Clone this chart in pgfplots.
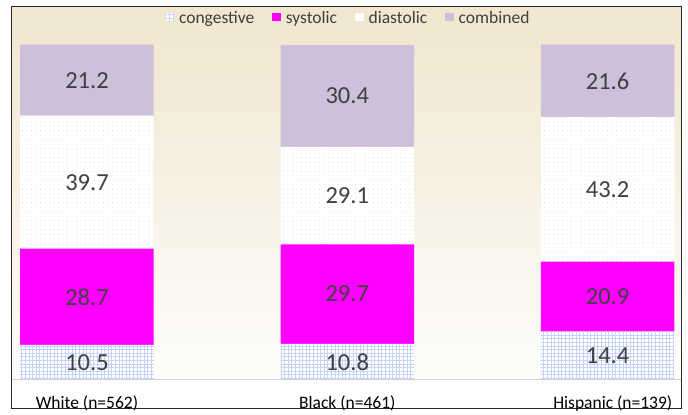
\documentclass[border=0pt]{standalone}
\usepackage{pgfplots}
\pgfplotsset{compat=1.18}
\usepackage{pgfplotstable}
\usepackage{fontspec}
\setmainfont{Carlito}
\usetikzlibrary{patterns.meta,calc}

\definecolor{txt}{RGB}{64,64,64}
\definecolor{sysc}{RGB}{255,0,255}
\definecolor{combc}{RGB}{204,192,218}
\definecolor{gridc}{RGB}{196,210,248}
\definecolor{dotc}{RGB}{205,205,190}
\definecolor{beige}{RGB}{241,230,206}

% share of heart failure type (%) by group
\pgfplotstableread{
x cong sys dia comb
0 10.5 28.7 39.7 21.2
1 10.8 29.7 29.1 30.4
2 14.4 20.9 43.2 21.6
}\hfdata

\pgfplotsset{
  frame/.style={
    scale only axis,
    width=669pt, height=402pt,
    xmin=-0.288, xmax=2.282,
    ymin=-8.66, ymax=111.34,
    xtick=\empty, ytick=\empty,
    clip=false,
  },
  seglabel/.style={
    only marks, mark=none,
    nodes near coords={\pgfmathprintnumber[fixed,fixed zerofill,precision=1]{\pgfplotspointmeta}},
    point meta=explicit,
    every node near coord/.append style={font=\fontsize{24.5}{27}\selectfont,
      text=txt, anchor=center},
  },
}

\begin{document}
\begin{tikzpicture}
\begin{axis}[
  frame,
  ybar stacked,
  bar width=0.513,
  axis line style={black!85, line width=1pt},
  axis background/.style={shade, top color=beige, bottom color=white},
  legend columns=4,
  legend style={draw=none, fill=none, font=\fontsize{17.5}{19}\selectfont,
    text=txt, at={(rel axis cs:0.503,0.973)}, anchor=center,
    /tikz/every odd column/.append style={column sep=3pt},
    /tikz/every even column/.append style={column sep=16pt}},
  legend image code/.code={\draw[#1, draw=none] (0pt,-3.5pt) rectangle (8.5pt,5pt);},
]
  % baseline
  \draw[black!18, line width=1pt] (axis cs:-0.288,0) -- (axis cs:2.282,0);

  \addplot[fill=white, draw=none,
    postaction={pattern={Hatch[angle=0,distance=3.6pt,line width=0.6pt]}, pattern color=gridc}]
    table[x=x, y=cong] {\hfdata};
  \addlegendentry{congestive}
  \addplot[fill=sysc, draw=none] table[x=x, y=sys] {\hfdata};
  \addlegendentry{systolic}
  \addplot[fill=white, draw=none,
    postaction={pattern={Dots[distance=4.5pt,radius=0.45pt]}, pattern color=dotc}]
    table[x=x, y=dia] {\hfdata};
  \addlegendentry{diastolic}
  \addplot[fill=combc, draw=none] table[x=x, y=comb] {\hfdata};
  \addlegendentry{combined}

  % group names
  \node[font=\fontsize{17.5}{19}\selectfont, text=black] at (axis cs:0,-6.9) {White (n=562)};
  \node[font=\fontsize{17.5}{19}\selectfont, text=black] at (axis cs:1,-6.9) {Black (n=461)};
  \node[font=\fontsize{17.5}{19}\selectfont, text=black] at (axis cs:2.02,-6.9) {Hispanic (n=139)};
\end{axis}

% segment values, set at the middle of each stacked segment
\begin{axis}[frame, axis lines=none, /pgf/number format/assume math mode=true]
  \addplot[seglabel] table[x=x, y expr={\thisrow{cong}/2}, meta=cong] {\hfdata};
  \addplot[seglabel] table[x=x, y expr={\thisrow{cong}+\thisrow{sys}/2}, meta=sys] {\hfdata};
  \addplot[seglabel] table[x=x, y expr={\thisrow{cong}+\thisrow{sys}+\thisrow{dia}/2}, meta=dia] {\hfdata};
  \addplot[seglabel] table[x=x, y expr={\thisrow{cong}+\thisrow{sys}+\thisrow{dia}+\thisrow{comb}/2}, meta=comb] {\hfdata};
\end{axis}
\path ($(current axis.south west)+(-12pt,-2pt)$) rectangle ($(current axis.north east)+(7pt,7pt)$);
\end{tikzpicture}
\end{document}
